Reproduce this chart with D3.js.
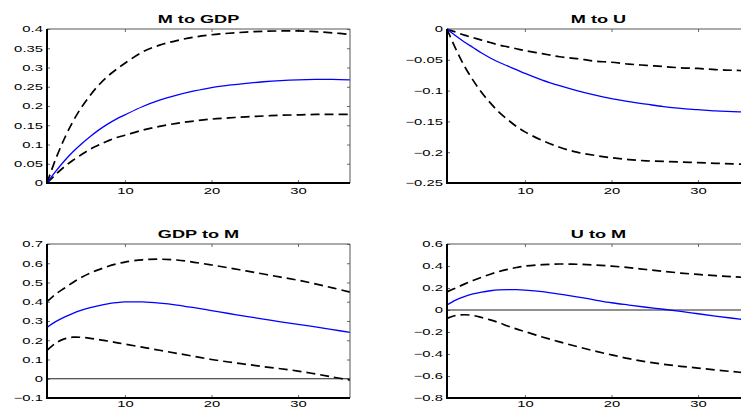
<!DOCTYPE html>
<html>
<head>
<meta charset="utf-8">
<script src="https://cdn.jsdelivr.net/npm/d3@7"></script>
<style>
  html, body { margin: 0; padding: 0; background: #fff; }
  svg { display: block; }
  text { font-family: "Liberation Sans", Arial, Helvetica, sans-serif; fill: #000; }
</style>
</head>
<body>
<svg id="chart" width="741" height="408"></svg>
<script>
// ---- data ----
const horizon = [1,2,3,4,5,6,7,8,9,10,12,14,16,18,20,22,24,26,28,30,32,34,36];
const titles = ["M to GDP", "M to U", "GDP to M", "U to M"];

const mToGdp      = [0,0.030,0.057,0.081,0.102,0.121,0.138,0.153,0.166,0.177,0.198,0.215,0.228,0.239,0.248,0.254,0.259,0.263,0.266,0.268,0.269,0.269,0.268];
const mToGdpUpper = [0,0.062,0.115,0.160,0.197,0.228,0.255,0.277,0.295,0.311,0.340,0.358,0.370,0.379,0.385,0.389,0.392,0.394,0.395,0.395,0.393,0.390,0.386];
const mToGdpLower = [0,0.022,0.042,0.059,0.074,0.088,0.099,0.109,0.118,0.124,0.137,0.147,0.155,0.161,0.166,0.169,0.172,0.174,0.176,0.177,0.178,0.178,0.178];

const mToU      = [0,-0.011,-0.021,-0.030,-0.039,-0.047,-0.054,-0.060,-0.066,-0.072,-0.083,-0.092,-0.100,-0.107,-0.113,-0.118,-0.122,-0.126,-0.129,-0.131,-0.133,-0.134,-0.135];
const mToUUpper = [0,-0.005,-0.010,-0.014,-0.018,-0.022,-0.026,-0.029,-0.032,-0.035,-0.040,-0.045,-0.048,-0.052,-0.054,-0.057,-0.059,-0.061,-0.063,-0.064,-0.066,-0.067,-0.068];
const mToULower = [0,-0.032,-0.060,-0.083,-0.103,-0.120,-0.135,-0.147,-0.158,-0.167,-0.181,-0.192,-0.200,-0.205,-0.209,-0.212,-0.214,-0.215,-0.216,-0.217,-0.218,-0.219,-0.220];

const gdpToM      = [0.267,0.297,0.320,0.340,0.356,0.369,0.380,0.389,0.395,0.399,0.399,0.393,0.383,0.369,0.354,0.339,0.324,0.310,0.296,0.283,0.269,0.255,0.241];
const gdpToMUpper = [0.400,0.440,0.470,0.500,0.527,0.549,0.567,0.583,0.596,0.606,0.618,0.621,0.617,0.605,0.591,0.576,0.560,0.544,0.528,0.512,0.493,0.472,0.450];
const gdpToMLower = [0.147,0.185,0.207,0.216,0.215,0.210,0.203,0.196,0.188,0.180,0.164,0.148,0.132,0.116,0.100,0.087,0.075,0.063,0.052,0.040,0.025,0.009,-0.007];

const uToM      = [0.045,0.090,0.122,0.146,0.163,0.175,0.183,0.186,0.185,0.181,0.167,0.144,0.120,0.093,0.066,0.045,0.025,0.007,-0.012,-0.034,-0.055,-0.075,-0.094];
const uToMUpper = [0.165,0.200,0.235,0.268,0.298,0.325,0.350,0.370,0.386,0.399,0.412,0.418,0.416,0.409,0.399,0.385,0.368,0.351,0.336,0.323,0.312,0.302,0.293];
const uToMLower = [-0.076,-0.050,-0.043,-0.050,-0.068,-0.090,-0.115,-0.145,-0.172,-0.196,-0.245,-0.290,-0.332,-0.372,-0.408,-0.442,-0.470,-0.493,-0.512,-0.528,-0.545,-0.560,-0.574];

const xTicks = [10, 20, 30];
const yTicks1 = [0,0.05,0.1,0.15,0.2,0.25,0.3,0.35,0.4];
const yTicks2 = [-0.25,-0.2,-0.15,-0.1,-0.05,0];
const yTicks3 = [-0.1,0,0.1,0.2,0.3,0.4,0.5,0.6,0.7];
const yTicks4 = [-0.8,-0.6,-0.4,-0.2,0,0.2,0.4,0.6];
const yDomains = [[0,0.4],[-0.25,0],[-0.1,0.7],[-0.8,0.6]];
const xDomain = [1, 36];

// ---- layout ----
const svg = d3.select("#chart");
const SX = 1.65; // horizontal stretch of the text
const W = 303, H = 154;
const origins = [[47,29],[447,29],[47,244],[447,244]];
const xPads = [5, 5, 2.5, 2.5];
const panelData = [
  {mid: mToGdp, up: mToGdpUpper, lo: mToGdpLower, ticks: yTicks1, zero: false},
  {mid: mToU,   up: mToUUpper,   lo: mToULower,   ticks: yTicks2, zero: false},
  {mid: gdpToM, up: gdpToMUpper, lo: gdpToMLower, ticks: yTicks3, zero: true},
  {mid: uToM,   up: uToMUpper,   lo: uToMLower,   ticks: yTicks4, zero: true}
];

function fmt(v) {
  if (Math.abs(v) < 1e-9) return "0";
  const s = String(+v.toFixed(2));
  return v < 0 ? "\u2212" + s.slice(1) : s;
}

function stretchTexts(sel) {
  sel.selectAll("text").each(function() {
    const t = d3.select(this);
    const x = +t.attr("x") || 0;
    const y = +t.attr("y") || 0;
    t.attr("x", 0).attr("y", 0).attr("transform", `translate(${x},${y}) scale(${SX},1)`);
  });
}

panelData.forEach((p, i) => {
  const [ox, oy] = origins[i];
  const g = svg.append("g").attr("transform", `translate(${ox},${oy})`);
  const x = d3.scaleLinear().domain(xDomain).range([0, W]);
  const y = d3.scaleLinear().domain(yDomains[i]).range([H, 0]);

  // axes (inward ticks)
  const ax = g.append("g").attr("transform", `translate(0,${H})`)
    .call(d3.axisBottom(x).tickValues(xTicks).tickSize(-3).tickPadding(xPads[i]).tickFormat(d3.format("d")));
  const ay = g.append("g")
    .call(d3.axisLeft(y).tickValues(p.ticks).tickSize(-3).tickPadding(4).tickFormat(fmt));
  const at = g.append("g")
    .call(d3.axisTop(x).tickValues(xTicks).tickSize(-3).tickFormat(""));
  const ar = g.append("g").attr("transform", `translate(${W},0)`)
    .call(d3.axisRight(y).tickValues(p.ticks).tickSize(-3).tickFormat(""));
  [ax, ay, at, ar].forEach(a => {
    a.select(".domain").remove();
    a.selectAll(".tick line").attr("stroke", "#444").attr("stroke-width", 0.8);
    a.selectAll("text").attr("font-size", 9).attr("fill", "#000");
  });
  stretchTexts(ax);
  stretchTexts(ay);

  // zero line
  if (p.zero) {
    g.append("line").attr("x1", 0).attr("x2", W)
      .attr("y1", y(0)).attr("y2", y(0))
      .attr("stroke", "#222").attr("stroke-width", 1);
  }

  const line = d3.line()
    .x((d, j) => x(horizon[j]))
    .y(d => y(d))
    .curve(d3.curveCatmullRom);

  [p.up, p.lo].forEach(arr => {
    g.append("path").datum(arr).attr("d", line)
      .attr("fill", "none").attr("stroke", "#000")
      .attr("stroke-width", 1.7).attr("stroke-dasharray", "9,5");
  });
  g.append("path").datum(p.mid).attr("d", line)
    .attr("fill", "none").attr("stroke", "#0000ff").attr("stroke-width", 1.3);

  // box: thin top/right, heavier left/bottom
  g.append("line").attr("x1", 0).attr("x2", W).attr("y1", 0).attr("y2", 0)
    .attr("stroke", "#555").attr("stroke-width", 1);
  g.append("line").attr("x1", W).attr("x2", W).attr("y1", 0).attr("y2", H)
    .attr("stroke", "#555").attr("stroke-width", 1);
  g.append("line").attr("x1", 0).attr("x2", 0).attr("y1", 0).attr("y2", H + 1)
    .attr("stroke", "#000").attr("stroke-width", 2);
  g.append("line").attr("x1", -1).attr("x2", W).attr("y1", H).attr("y2", H)
    .attr("stroke", "#000").attr("stroke-width", 2);

  // title
  g.append("text")
    .attr("transform", `translate(${W / 2},-6) scale(${SX},1)`)
    .attr("text-anchor", "middle")
    .attr("font-size", 11).attr("font-weight", "bold")
    .text(titles[i]);
});
</script>
</body>
</html>
